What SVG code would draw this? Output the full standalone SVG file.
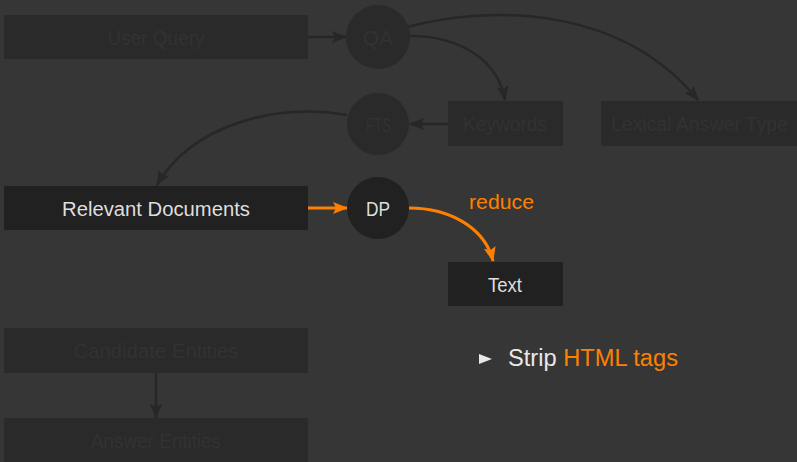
<svg xmlns="http://www.w3.org/2000/svg" width="797" height="462" viewBox="0 0 797 462">
<style>
text{font-family:"Liberation Sans","DejaVu Sans",sans-serif;font-size:19.5px;text-anchor:middle}
.dimbox{fill:#2a2a2a}
.dimtxt{fill:#323232}
.box{fill:#212121}
.txt{fill:#dedede}
.dimline{fill:none;stroke:#272727;stroke-width:2.5}
.orline{fill:none;stroke:#ff8000;stroke-width:3}
.or{fill:#ff8000}
</style>
<defs>
<marker id="ad" markerUnits="userSpaceOnUse" markerWidth="15" markerHeight="12" viewBox="0 0 15 12" refX="14" refY="6" orient="auto"><path d="M0,0 L15,6 L0,12 L3,6 Z" fill="#272727"/></marker>
<marker id="ao" markerUnits="userSpaceOnUse" markerWidth="15" markerHeight="12" viewBox="0 0 15 12" refX="14" refY="6" orient="auto"><path d="M0,0 L15,6 L0,12 L3,6 Z" fill="#ff8000"/></marker>
</defs>
<rect width="797" height="462" fill="#363636"/>
<g id="connectors">
<path class="dimline" d="M308,37 L346,37" marker-end="url(#ad)"/>
<path class="dimline" d="M410,36 C460,36 498,60 505,100" marker-end="url(#ad)"/>
<path class="dimline" d="M407,27 C490,5 620,5 698,100" marker-end="url(#ad)"/>
<path class="dimline" d="M448,124 L410,124" marker-end="url(#ad)"/>
<path class="dimline" d="M347,115 C270,102 190,128 157,185" marker-end="url(#ad)"/>
<path class="dimline" d="M156,373 L156,418" marker-end="url(#ad)"/>
<path class="orline" d="M308,208 L347,208" marker-end="url(#ao)"/>
<path class="orline" d="M409,208 C450,208 485,228 493,261" marker-end="url(#ao)"/>
<text class="or" x="501.5" y="209" style="font-size:21px" textLength="65" lengthAdjust="spacingAndGlyphs">reduce</text>
</g>
<g id="user-query"><rect class="dimbox" x="4" y="15" width="304" height="44"/><text class="dimtxt" x="156" y="45" textLength="97" lengthAdjust="spacingAndGlyphs">User Query</text></g>
<g id="qa"><circle fill="#2a2a2a" cx="378" cy="37" r="32"/><text class="dimtxt" x="378" y="45" textLength="30" lengthAdjust="spacingAndGlyphs">QA</text></g>
<g id="fts"><circle fill="#2a2a2a" cx="378" cy="124" r="31"/><text class="dimtxt" x="378.5" y="132" textLength="25" lengthAdjust="spacingAndGlyphs">FTS</text></g>
<g id="keywords"><rect class="dimbox" x="448" y="101" width="115" height="45"/><text class="dimtxt" x="505" y="131" textLength="84" lengthAdjust="spacingAndGlyphs">Keywords</text></g>
<g id="lexical-answer-type"><rect class="dimbox" x="601" y="101" width="196" height="45"/><text class="dimtxt" x="699.5" y="131" textLength="177" lengthAdjust="spacingAndGlyphs">Lexical Answer Type</text></g>
<g id="relevant-documents"><rect class="box" x="4" y="186" width="304" height="44"/><text class="txt" x="156" y="216" textLength="188" lengthAdjust="spacingAndGlyphs">Relevant Documents</text></g>
<g id="dp"><circle fill="#212121" cx="378" cy="208" r="31"/><text class="txt" x="378" y="216" textLength="24" lengthAdjust="spacingAndGlyphs">DP</text></g>
<g id="text"><rect class="box" x="448" y="262" width="115" height="44"/><text class="txt" x="505" y="292" textLength="34" lengthAdjust="spacingAndGlyphs">Text</text></g>
<g id="candidate-entities"><rect class="dimbox" x="4" y="328" width="304" height="45"/><text class="dimtxt" x="156" y="358" textLength="165" lengthAdjust="spacingAndGlyphs">Candidate Entities</text></g>
<g id="answer-entities"><rect class="dimbox" x="4" y="418" width="304" height="44"/><text class="dimtxt" x="156" y="448" textLength="130" lengthAdjust="spacingAndGlyphs">Answer Entities</text></g>
<g id="bullet">
<polygon points="479,354 492,359 479,364" fill="#e8e8e8"/>
<text x="508" y="366" style="text-anchor:start;font-size:23.5px" textLength="170" lengthAdjust="spacingAndGlyphs"><tspan fill="#e8e8e8">Strip </tspan><tspan class="or">HTML tags</tspan></text>
</g>
</svg>
